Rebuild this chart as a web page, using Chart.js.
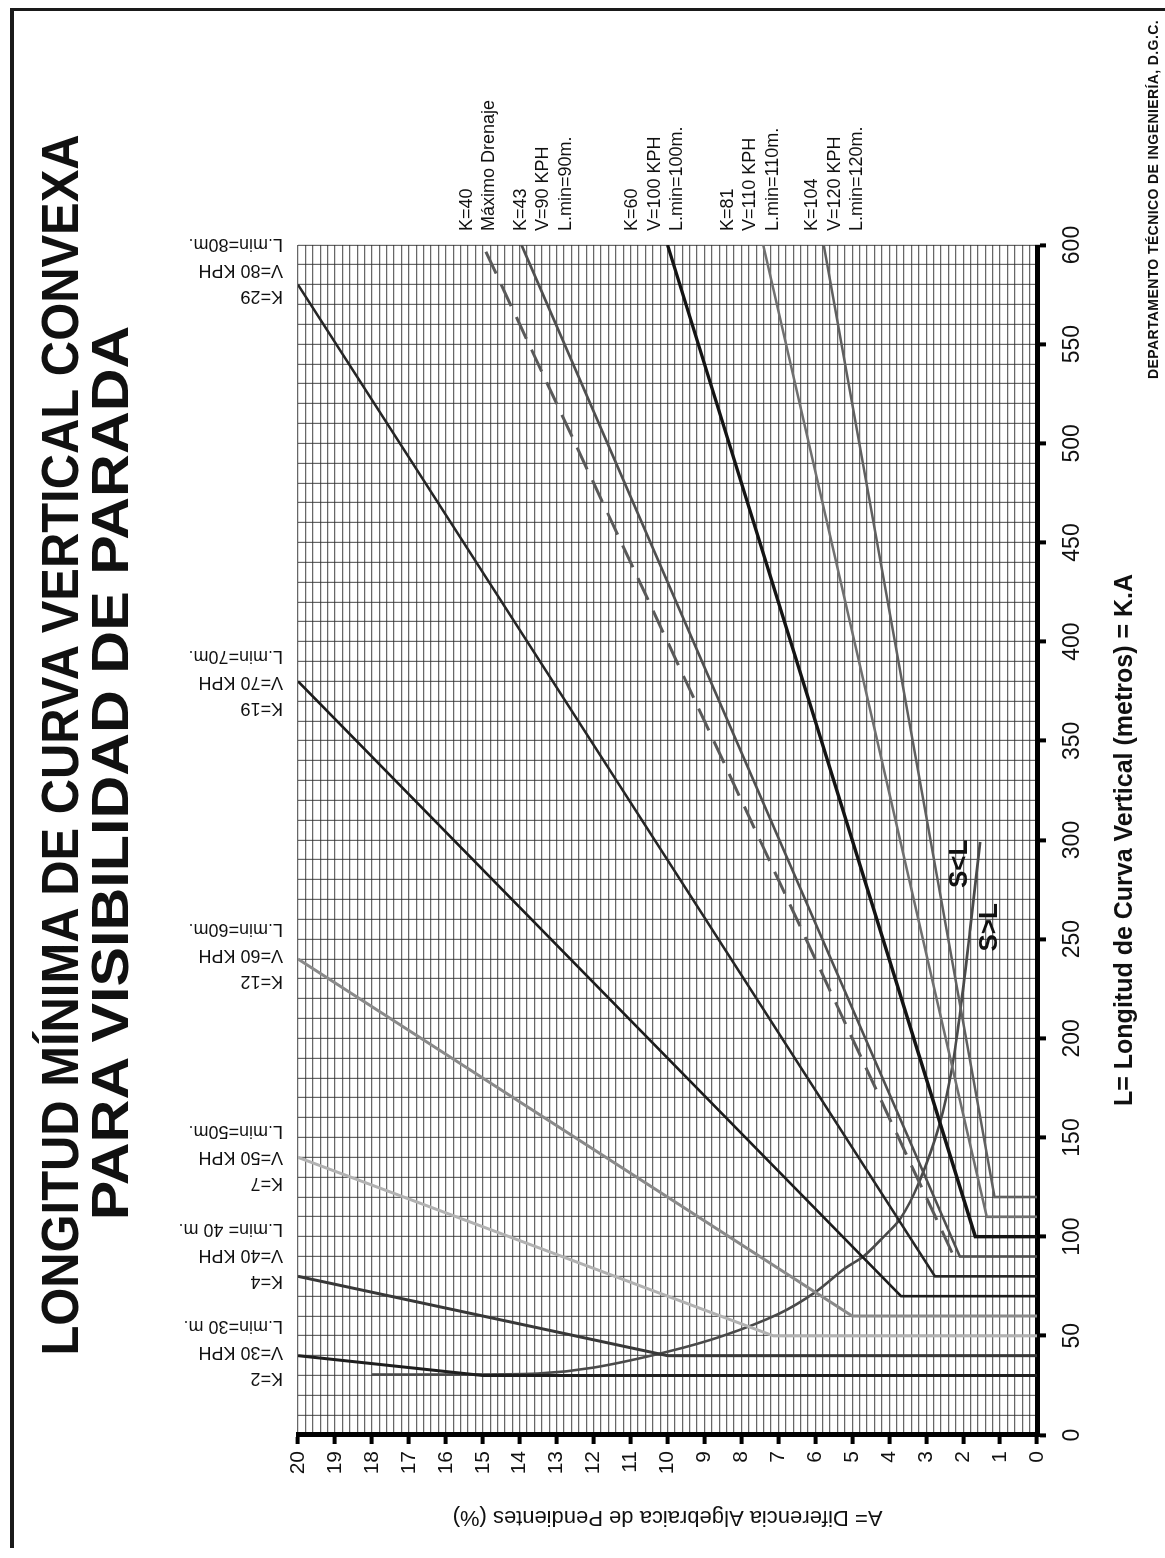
<!DOCTYPE html>
<html><head><meta charset="utf-8">
<script src="https://cdn.jsdelivr.net/npm/chart.js@4.4.1/dist/chart.umd.min.js"></script>
<style>
html,body{margin:0;padding:0;background:#fff;}
body{width:1165px;height:1558px;position:relative;overflow:hidden;font-family:"Liberation Sans",Arial,sans-serif;}
#rot{position:absolute;left:0;top:1558px;width:1558px;height:1165px;transform-origin:0 0;transform:rotate(-90deg);}
#c{position:absolute;left:0;top:0;}
.t{position:absolute;white-space:nowrap;font-weight:bold;color:#111;line-height:1;}
#t1{left:813px;top:60px;font-size:52px;transform:translate(-50%,-50%) scaleX(0.94);}
#t2{left:785px;top:110px;font-size:52px;transform:translate(-50%,-50%) scaleX(1.14);}
#foot{right:20px;top:1146px;font-size:14px;letter-spacing:0.4px;}
.bd{position:absolute;background:#1a1a1a;}
</style></head><body>
<div id="rot">
<canvas id="c" width="1558" height="1165"></canvas>
<div class="t" id="t1">LONGITUD MÍNIMA DE CURVA VERTICAL CONVEXA</div>
<div class="t" id="t2">PARA VISIBILIDAD DE PARADA</div>
<div class="t" id="foot">DEPARTAMENTO TÉCNICO DE INGENIERÍA, D.G.C.</div>
</div>
<div class="bd" style="left:10px;top:8px;width:4px;height:1540px"></div>
<div class="bd" style="left:10px;top:8px;width:1155px;height:3px"></div>
<script>
// ---------------- data ----------------
const kValues  = [2, 4, 7, 12, 19, 29, 40, 43, 60, 81, 104];
const speedKph = [30, 40, 50, 60, 70, 80, null, 90, 100, 110, 120];
const lMin     = [30, 40, 50, 60, 70, 80, null, 90, 100, 110, 120];
// break point of each line (A %, L m)
const cornerA  = [15, 10, 7.14, 5, 3.68, 2.76, 2.3, 2.09, 1.67, 1.36, 1.15];
const cornerL  = [30, 40, 50, 60, 70, 80, 92, 90, 100, 110, 120];
// end point of each line at the chart border
const endA     = [20, 20, 20, 20, 20, 20, 15, 13.95, 10, 7.41, 5.77];
const endL     = [40, 80, 140, 240, 380, 580, 600, 600, 600, 600, 600];
// S = L boundary curve
const curveA   = [18, 16, 13.5, 12, 10, 8.5, 7, 6, 5.2, 4.7, 4.2, 3.7, 3.2, 2.63, 2.3, 2.04, 1.81, 1.54];
const curveL   = [30.5, 30.5, 31, 34, 42, 50, 61, 72, 84, 90, 99, 109, 127, 157, 185, 219, 255, 299];
// tick labels
const aTickValues = [0,1,2,3,4,5,6,7,8,9,10,11,12,13,14,15,16,17,18,19,20];
const lTickValues = [0,50,100,150,200,250,300,350,400,450,500,550,600];
// label texts
const labelTexts = [
  ['K=2','V=30 KPH','L.min=30 m.'],
  ['K=4','V=40 KPH','L.min= 40 m.'],
  ['K=7','V=50 KPH','L.min=50m.'],
  ['K=12','V=60 KPH','L.min=60m.'],
  ['K=19','V=70 KPH','L.min=70m.'],
  ['K=29','V=80 KPH','L.min=80m.'],
  ['K=40','Máximo Drenaje'],
  ['K=43','V=90 KPH','L.min=90m.'],
  ['K=60','V=100 KPH','L.min=100m.'],
  ['K=81','V=110 KPH','L.min=110m.'],
  ['K=104','V=120 KPH','L.min=120m.']
];
const regionTexts = ['S<L', 'S>L'];
const regionA = [2.08, 1.27];
const regionL = [288, 256];

// ---------------- styles ----------------
const lineColors = ['#1e1e1e','#383838','#b2b2b2','#8a8a8a','#1c1c1c','#262626','#5a5a5a','#505050','#141414','#707070','#606060'];
const lineWidths = [3,3,3,3,2.6,2.6,3,2.6,3.4,2.6,2.6];
const lineDash   = [[],[],[],[],[],[],[24,12],[],[],[],[]];
const labelShift = [4, 21, 0, 4, -1, 15, -4.5, 21.5, -12.5, -13, 11];
const FONT = '"Liberation Sans", Arial, sans-serif';

const datasets = kValues.map((k, i) => {
  const pts = [];
  if (lMin[i] !== null) pts.push({x: lMin[i], y: 0});
  pts.push({x: cornerL[i], y: cornerA[i]});
  pts.push({x: endL[i], y: endA[i]});
  return {label: 'K=' + k, data: pts, showLine: true, borderColor: lineColors[i],
          borderWidth: lineWidths[i], borderDash: lineDash[i], pointRadius: 0, fill: false};
});
datasets.push({label: 'S=L', data: curveA.map((a, j) => ({x: curveL[j], y: a})), showLine: true,
  borderColor: '#4a4a4a', borderWidth: 2.6, pointRadius: 0, fill: false, tension: 0.3});

const labelPlugin = {
  id: 'curveLabels',
  afterDatasetsDraw(chart) {
    const {ctx, chartArea, scales: {x, y}} = chart;
    ctx.save();
    ctx.fillStyle = '#111';
    ctx.font = '18px ' + FONT;
    ctx.textBaseline = 'middle';
    kValues.forEach((k, i) => {
      const lines = labelTexts[i];
      const n = lines.length;
      if (endL[i] >= 600) {
        const cy = y.getPixelForValue(endA[i]) + labelShift[i];
        ctx.textAlign = 'left';
        lines.forEach((t, j) => ctx.fillText(t, chartArea.right + 14, cy - (n - 1) * 22.5 / 2 + j * 22.5));
      } else {
        const cx = x.getPixelForValue(endL[i]) + labelShift[i];
        lines.forEach((t, j) => {
          ctx.save();
          ctx.translate(cx - (n - 1) * 26 / 2 + j * 26, chartArea.top - 15);
          ctx.rotate(-Math.PI / 2);
          ctx.textAlign = 'left';
          ctx.fillText(t, 0, 0);
          ctx.restore();
        });
      }
    });
    ctx.font = 'bold 26px ' + FONT;
    ctx.textAlign = 'center';
    regionTexts.forEach((t, j) => ctx.fillText(t, x.getPixelForValue(regionL[j]), y.getPixelForValue(regionA[j])));
    ctx.restore();
  }
};

new Chart(document.getElementById('c'), {
  type: 'scatter',
  data: {datasets},
  plugins: [labelPlugin],
  options: {
    responsive: false, animation: false, devicePixelRatio: 1,
    layout: {padding: {left: 0, top: 298, right: 245, bottom: 15}},
    plugins: {legend: {display: false}, tooltip: {enabled: false}},
    elements: {point: {radius: 0}, line: {tension: 0}},
    scales: {
      x: {
        type: 'linear', position: 'bottom', min: 0, max: 600,
        afterFit(s) { s.height = 113; },
        ticks: {stepSize: 10, autoSkip: false, maxRotation: 0, minRotation: 0, padding: 13, color: '#111',
                font: {family: FONT, size: 23},
                callback: v => lTickValues.includes(v) ? String(v) : ''},
        grid: {color: 'rgba(45,45,45,0.72)', lineWidth: 1.2, tickLength: 9, tickWidth: 4,
               tickColor: c => (c.tick && lTickValues.includes(c.tick.value)) ? '#000' : 'rgba(0,0,0,0)'},
        border: {display: true, color: '#000', width: 5},
        title: {display: true, text: 'L= Longitud de Curva Vertical (metros) = K.A', color: '#111',
                font: {family: FONT, size: 25, weight: 'bold'}, padding: {top: 0, bottom: 10}}
      },
      y: {
        type: 'linear', position: 'left', min: 0, max: 20,
        afterFit(s) { s.width = 123; },
        ticks: {stepSize: 0.2, autoSkip: false, padding: 7, color: '#111',
                font: {family: FONT, size: 21},
                callback: v => aTickValues.includes(Math.round(v * 10) / 10) ? String(Math.round(v)) : ''},
        grid: {color: 'rgba(45,45,45,0.72)', lineWidth: 1.2, tickLength: 9, tickWidth: 4,
               tickColor: c => (c.tick && aTickValues.includes(Math.round(c.tick.value * 10) / 10)) ? '#000' : 'rgba(0,0,0,0)'},
        border: {display: true, color: '#000', width: 5},
        title: {display: true, text: 'A= Diferencia Algebraica de Pendientes (%)', color: '#111',
                font: {family: FONT, size: 22}, padding: {top: 28, bottom: 0}}
      }
    }
  }
});
</script>
</body></html>
